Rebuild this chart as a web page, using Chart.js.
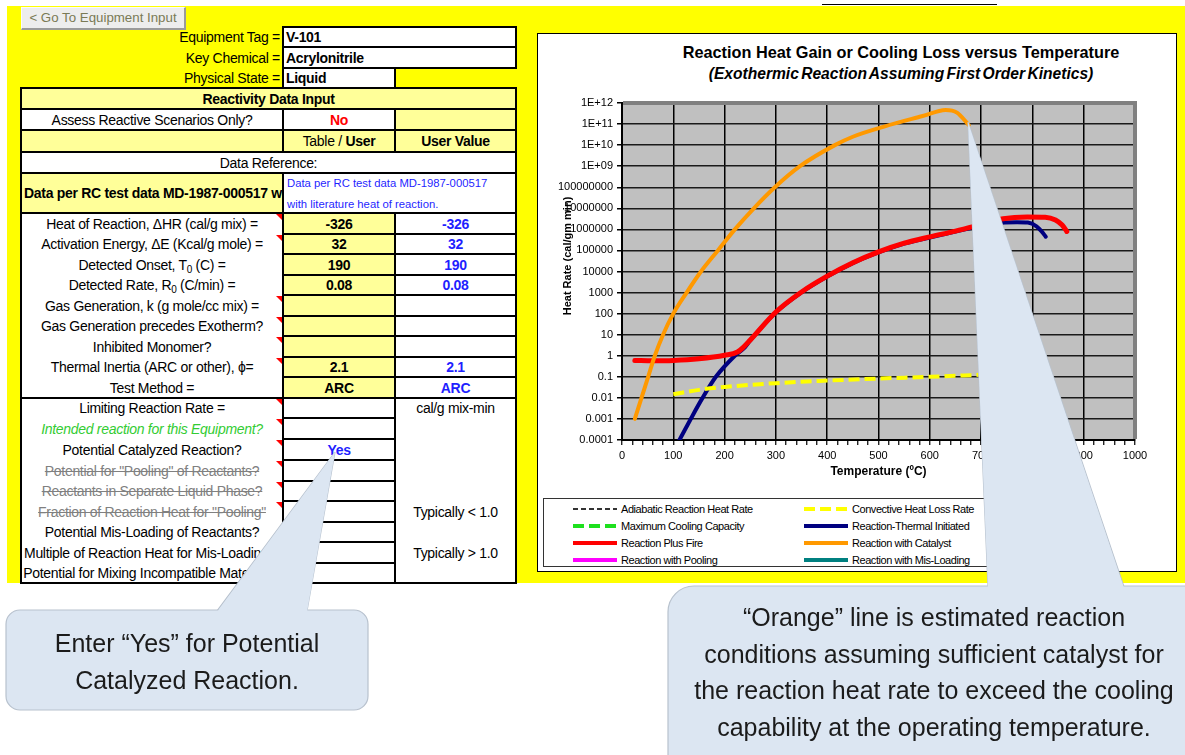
<!DOCTYPE html>
<html>
<head>
<meta charset="utf-8">
<script src="https://cdn.jsdelivr.net/npm/chart.js@4.4.1/dist/chart.umd.min.js"></script>
<style>
  html, body { margin: 0; padding: 0; background: #fff; }
  #page { position: relative; width: 1185px; height: 755px; overflow: hidden;
          font-family: "Liberation Sans", Arial, sans-serif; color: #000; }
  .abs { position: absolute; box-sizing: border-box; }
  .cell { position: absolute; box-sizing: border-box; display: flex; align-items: center;
          justify-content: center; white-space: nowrap; overflow: hidden;
          font-size: 14px; letter-spacing: -0.3px; }
  .bd { outline: 2px solid #000; outline-offset: -1px; }
  .lt { background: #ffff99; }
  .wh { background: #fff; }
  .b { font-weight: bold; }
  .blue { color: #1f1fff; font-weight: bold; }
  .right { justify-content: flex-end; }
  .left { justify-content: flex-start; padding-left: 3px; }
  .strike { color: #808080; text-decoration: line-through; }
  .green { color: #33cc33; font-style: italic; }
  .flag { position: absolute; width: 0; height: 0; border-left: 6px solid transparent;
          border-top: 6px solid #ff0000; }
  sub { font-size: 10px; vertical-align: -3px; line-height: 0; }
  #legend { position: absolute; left: 543px; top: 498px; width: 530px; height: 69px;
            border: 1px solid #333; box-sizing: border-box; background: #fff; }
  .lg-item { position: absolute; display: flex; align-items: center; height: 14px;
             font-size: 11px; letter-spacing: -0.45px; white-space: nowrap; }
  .lg-item svg { margin-right: 3px; }
  .callout { position: absolute; text-align: center; font-size: 25px; color: #1b1b1b;
             z-index: 6; white-space: nowrap; }
</style>
</head>
<body>
<div id="page">
  <div class="abs" style="left:822px; top:4px; width:175px; height:1px; background:#000;"></div>
  <div class="abs" style="left:7px; top:6px; width:1178px; height:577px; background:#ffff00;"></div>

  <div class="abs" style="left:21px; top:7px; width:165px; height:23px; background:#ededed;
       border-right:2px solid #9a9a9a; border-bottom:2px solid #9a9a9a; border-top:1px solid #fafafa;
       border-left:1px solid #fafafa; font-size:13.3px; color:#7a7a55; text-align:center; line-height:20px;">&lt; Go To Equipment Input</div>

  <div class="abs" style="left:537px; top:33px; width:640px; height:539px; background:#fff; border:1px solid #000;"></div>
  <div class="abs" style="left:601px; top:42px; width:600px; text-align:center; font-weight:bold; line-height:21px;">
    <div style="font-size:16.3px;">Reaction Heat Gain or Cooling Loss versus Temperature</div>
    <div style="font-size:15.6px; font-style:italic; word-spacing:-2px;">(Exothermic Reaction Assuming First Order Kinetics)</div>
  </div>
  <canvas id="rateChart" width="638" height="402" class="abs" style="left:538px; top:88px;"></canvas>
  <div id="legend"></div>

  <svg class="abs" width="1185" height="755" style="left:0; top:0; z-index:5;">
    <polygon points="968,122 988,587 1124,587" fill="#dce6f2" stroke="#b8c2ce" stroke-width="1.2"/>
    <rect x="668" y="586" width="560" height="220" rx="26" fill="#dce6f2" stroke="#b8c2ce" stroke-width="1.2"/>
    <polygon points="968,122 988,588 1124,588" fill="#dce6f2"/>
    <polygon points="335,452 217,611 307,611" fill="#dce6f2" stroke="#b8c2ce" stroke-width="1.2"/>
    <rect x="6" y="610" width="362" height="100" rx="14" fill="#dce6f2" stroke="#b8c2ce" stroke-width="1.2"/>
    <polygon points="335,452 217,612 307,612" fill="#dce6f2"/>
  </svg>
  <div class="callout" style="left:6px; top:625px; width:362px; line-height:37px;">Enter “Yes” for Potential<br>Catalyzed Reaction.</div>
  <div class="callout" style="left:634px; top:599px; width:600px; line-height:36.5px;">“Orange” line is estimated reaction<br>conditions assuming sufficient catalyst for<br>the reaction heat rate to exceed the cooling<br>capability at the operating temperature.</div>
</div>

<script>
// chart data (temperature in degC, heat rate in cal/gm min)
const yTickValues = [1e-4, 1e-3, 1e-2, 1e-1, 1, 10, 100, 1e3, 1e4, 1e5, 1e6, 1e7, 1e8, 1e9, 1e10, 1e11, 1e12];
const yTickLabels = ['0.0001', '0.001', '0.01', '0.1', '1', '10', '100', '1000', '10000', '100000',
                     '1000000', '10000000', '100000000', '1E+09', '1E+10', '1E+11', '1E+12'];

const adiabaticT = [];
const adiabaticRate = [];
const convectiveT = [100, 150, 200, 300, 400, 500, 600, 700];
const convectiveRate = [0.015, 0.024, 0.033, 0.05, 0.066, 0.083, 0.1, 0.125];
const coolingT = [];
const coolingRate = [];
const thermalT = [100, 112, 134, 157, 183, 220, 240, 250, 300, 350, 400, 450, 500, 550, 600, 650, 700, 746, 770, 791, 808, 818, 826];
const thermalRate = [3e-5, 1e-4, 1e-3, 1e-2, 0.1, 1, 2.6, 5.3, 115, 1030, 5800, 25000, 80000, 2.1e5, 4.1e5, 7.8e5, 1.45e6, 2.1e6, 2.2e6, 2.1e6, 1.4e6, 8e5, 4.5e5];
const fireT = [25, 60, 100, 150, 200, 225, 237, 250, 300, 350, 400, 450, 500, 550, 600, 650, 700, 743, 790, 825, 845, 858, 867];
const fireRate = [0.6, 0.58, 0.6, 0.72, 1.05, 1.5, 2.6, 5.6, 120, 1070, 6000, 26000, 85000, 2.2e5, 4.4e5, 8.3e5, 1.7e6, 3.2e6, 3.9e6, 3.8e6, 2.8e6, 1.6e6, 8e5];
const catalystT = [25, 38, 51, 64, 80, 100, 126, 154, 187, 220, 257, 298, 347, 415, 450, 511, 586, 631, 653, 676];
const catalystRate = [1e-3, 1e-2, 0.1, 1, 10, 100, 1e3, 1e4, 1e5, 1e6, 1e7, 1e8, 1e9, 1e10, 2.5e10, 7.6e10, 2.4e11, 4.7e11, 3.5e11, 9e10];
const poolingT = [];
const poolingRate = [];
const misLoadT = [];
const misLoadRate = [];

const xy = (ts, vs) => ts.map((t, i) => ({ x: t, y: vs[i] }));

// ---- spreadsheet side (plain html) ----
const page = document.getElementById('page');
function box(x1, y1, x2, y2, html, cls) {
  const d = document.createElement('div');
  d.className = 'cell ' + (cls || '');
  d.style.left = x1 + 'px';
  d.style.top = y1 + 'px';
  d.style.width = (x2 - x1) + 'px';
  d.style.height = (y2 - y1) + 'px';
  d.innerHTML = html ? '<span>' + html + '</span>' : '';
  page.appendChild(d);
  return d;
}
function flag(y) {
  const f = document.createElement('div');
  f.className = 'flag';
  f.style.left = '276px';
  f.style.top = (y + 1) + 'px';
  page.appendChild(f);
}

const X0 = 21, X1 = 283, X2 = 395, X3 = 516;
const Y = [88, 109, 130, 152, 173, 213, 234, 254, 275, 295, 316, 336, 357, 377, 398,
           418, 439, 460, 481, 501, 522, 542, 563, 583];

box(21, 27, 280, 47, 'Equipment Tag =', 'right');
box(21, 47, 280, 68, 'Key Chemical =', 'right');
box(21, 68, 280, 88, 'Physical State =', 'right');
box(X1, 27, X3, 47, 'V-101', 'bd wh b left');
box(X1, 47, X3, 68, 'Acrylonitrile', 'bd wh b left');
box(X1, 68, X2, 88, 'Liquid', 'bd wh b left');

box(X0, Y[0], X3, Y[23], '', 'bd wh');
box(X0, Y[0], X3, Y[1], 'Reactivity Data Input', 'bd lt b');
box(X0, Y[1], X1, Y[2], 'Assess Reactive Scenarios Only?', 'bd wh');
box(X1, Y[1], X2, Y[2], '<span style="color:#ff0000">No</span>', 'bd wh b');
box(X2, Y[1], X3, Y[2], '', 'bd lt');
box(X0, Y[2], X1, Y[3], '', 'bd lt');
box(X1, Y[2], X2, Y[3], 'Table / <b>User</b>', 'bd lt');
box(X2, Y[2], X3, Y[3], 'User Value', 'bd lt b');
box(X0, Y[3], X3, Y[4], 'Data Reference:', 'bd wh');
box(X0, Y[4], X1, Y[5], 'Data per RC test data MD-1987-000517 w', 'bd lt b left');
const ref = box(X1, Y[4], X3, Y[5], 'Data per RC test data MD-1987-000517<br>with literature heat of reaction.', 'bd wh');
ref.style.display = 'block';
ref.style.fontSize = '11.3px';
ref.style.letterSpacing = '0';
ref.style.lineHeight = '21px';
ref.style.color = '#1f1fff';
ref.style.paddingLeft = '4px';

box(X0, Y[5], X1, Y[14], '', 'bd wh');
box(X0, Y[14], X1, Y[23], '', 'bd wh');

const inputRows = [
  ['Heat of Reaction, ΔHR (cal/g mix) =', '-326', true],
  ['Activation Energy, ΔE (Kcal/g mole) =', '32', true],
  ['Detected Onset, T<sub>0</sub> (C) =', '190', false],
  ['Detected Rate, R<sub>0</sub> (C/min) =', '0.08', false],
  ['Gas Generation, k (g mole/cc mix) =', '', true],
  ['Gas Generation precedes Exotherm?', '', true],
  ['Inhibited Monomer?', '', true],
  ['Thermal Inertia (ARC or other), ϕ=', '2.1', true],
  ['Test Method =', 'ARC', false]
];
inputRows.forEach((r, i) => {
  const y1 = Y[5 + i], y2 = Y[6 + i];
  box(X0 + 2, y1, X1 - 2, y2, r[0], '');
  box(X1, y1, X2, y2, r[1], 'bd lt b');
  box(X2, y1, X3, y2, r[1], 'bd wh blue');
  if (r[2]) flag(y1);
});

const scenarioRows = [
  ['Limiting Reaction Rate =', '', '', true],
  ['Intended reaction for this Equipment?', '', 'green', true],
  ['Potential Catalyzed Reaction?', 'Yes', '', true],
  ['Potential for "Pooling" of Reactants?', '', 'strike', true],
  ['Reactants in Separate Liquid Phase?', '', 'strike', true],
  ['Fraction of Reaction Heat for "Pooling"', '', 'strike', true],
  ['Potential Mis-Loading of Reactants?', '', '', false],
  ['Multiple of Reaction Heat for Mis-Loading =', '', '', false],
  ['Potential for Mixing Incompatible Materials?', '', '', false]
];
scenarioRows.forEach((r, i) => {
  const y1 = Y[14 + i], y2 = Y[15 + i];
  box(X0 + 2, y1, X1 - 2, y2, r[0], r[2]);
  box(X1, y1, X2, y2, r[1], 'bd wh blue');
  if (r[3]) flag(y1);
});
box(X2, Y[14], X3, Y[23], '', 'bd wh');
box(X2 + 2, Y[14], X3 - 2, Y[15], 'cal/g mix-min', '');
box(X2 + 2, Y[19], X3 - 2, Y[20], 'Typically &lt; 1.0', '');
box(X2 + 2, Y[21], X3 - 2, Y[22], 'Typically &gt; 1.0', '');

// ---- chart ----
Chart.defaults.font.family = '"Liberation Sans", Arial, sans-serif';
Chart.defaults.color = '#000';

const plotFrame = {
  id: 'plotFrame',
  beforeDraw(chart) {
    const { ctx, chartArea: a } = chart;
    ctx.save();
    ctx.fillStyle = '#c0c0c0';
    ctx.fillRect(a.left, a.top, a.right - a.left, a.bottom - a.top);
    ctx.restore();
  },
  beforeDatasetsDraw(chart) {
    const { ctx, chartArea: a } = chart;
    ctx.save();
    ctx.fillStyle = '#808080';
    ctx.fillRect(a.left + 1, a.top - 2, a.right - a.left + 1, 4);
    ctx.fillRect(a.right - 2, a.top - 2, 4, a.bottom - a.top + 1);
    ctx.restore();
  },
  afterDraw(chart) {
    const ctx = chart.ctx;
    const t = chart.options.scales.y.title;
    ctx.save();
    ctx.translate(30, 168);
    ctx.rotate(-Math.PI / 2);
    ctx.font = 'bold 11px "Liberation Sans", Arial, sans-serif';
    ctx.fillStyle = '#000';
    ctx.textAlign = 'center';
    ctx.textBaseline = 'middle';
    ctx.fillText(t.text, 0, 0);
    ctx.restore();
  }
};

const lineStyle = { pointRadius: 0, borderCapStyle: 'round', borderJoinStyle: 'round',
                    cubicInterpolationMode: 'monotone', fill: false };

const chart = new Chart(document.getElementById('rateChart'), {
  type: 'line',
  data: {
    datasets: [
      { ...lineStyle, label: 'Adiabatic Reaction Heat Rate', data: xy(adiabaticT, adiabaticRate),
        borderColor: '#333333', borderWidth: 2, borderDash: [5, 3], borderCapStyle: 'butt', order: 8 },
      { ...lineStyle, label: 'Convective Heat Loss Rate', data: xy(convectiveT, convectiveRate),
        borderColor: '#ffff00', borderWidth: 4, borderDash: [11, 5], borderCapStyle: 'butt', order: 3 },
      { ...lineStyle, label: 'Maximum Cooling Capacity', data: xy(coolingT, coolingRate),
        borderColor: '#1ee01e', borderWidth: 4, borderDash: [11, 5], borderCapStyle: 'butt', order: 7 },
      { ...lineStyle, label: 'Reaction-Thermal Initiated', data: xy(thermalT, thermalRate),
        borderColor: '#000080', borderWidth: 4, order: 4 },
      { ...lineStyle, label: 'Reaction Plus Fire', data: xy(fireT, fireRate),
        borderColor: '#ff0000', borderWidth: 5, order: 2 },
      { ...lineStyle, label: 'Reaction with Catalyst', data: xy(catalystT, catalystRate),
        borderColor: '#ff9900', borderWidth: 4, order: 1 },
      { ...lineStyle, label: 'Reaction with Pooling', data: xy(poolingT, poolingRate),
        borderColor: '#ff00ff', borderWidth: 4, order: 6 },
      { ...lineStyle, label: 'Reaction with Mis-Loading', data: xy(misLoadT, misLoadRate),
        borderColor: '#008080', borderWidth: 4, order: 5 }
    ]
  },
  options: {
    responsive: false,
    animation: false,
    devicePixelRatio: 1,
    layout: { padding: { left: 0, right: 41, top: 15, bottom: 0 } },
    plugins: { legend: { display: false }, tooltip: { enabled: false } },
    scales: {
      x: {
        type: 'linear',
        min: 0,
        max: 1000,
        afterFit: (s) => { s.height = 50; },
        border: { color: '#000', width: 2 },
        grid: {
          color: (c) => (c.tick && Math.round(c.tick.value) % 100 === 0 ? '#000' : 'rgba(0,0,0,0)'),
          lineWidth: 1.5,
          tickColor: '#000',
          tickLength: 5,
          tickWidth: 1.2
        },
        ticks: {
          stepSize: 20,
          maxTicksLimit: 60,
          autoSkip: false,
          maxRotation: 0,
          padding: 4,
          font: { size: 11 },
          callback: (v) => (Math.round(v) % 100 === 0 ? String(Math.round(v)) : '')
        },
        title: { display: true, text: 'Temperature (ºC)', font: { size: 12, weight: 'bold' },
                 padding: { top: 0, bottom: 11 } }
      },
      y: {
        type: 'logarithmic',
        min: 1e-4,
        max: 1e12,
        afterFit: (s) => { s.width = 84; },
        afterBuildTicks: (s) => { s.ticks = yTickValues.map((v) => ({ value: v })); },
        border: { color: '#000', width: 2 },
        grid: { color: '#1a1a1a', lineWidth: 1.5, tickColor: '#000', tickLength: 5 },
        ticks: {
          autoSkip: false,
          padding: 4,
          font: { size: 11 },
          callback: (v) => yTickLabels[yTickValues.indexOf(v)]
        },
        title: { display: false, text: 'Heat Rate (cal/gm min)' }
      }
    }
  },
  plugins: [plotFrame]
});

// html legend built from the chart's datasets, two per row
const legend = document.getElementById('legend');
chart.data.datasets.forEach((ds, i) => {
  const row = Math.floor(i / 2), col = i % 2;
  const item = document.createElement('div');
  item.className = 'lg-item';
  item.style.left = (col ? 259 : 28) + 'px';
  item.style.top = (3 + row * 17) + 'px';
  const dash = (ds.borderDash || []).join(' ');
  const w = Math.min(ds.borderWidth, 4);
  item.innerHTML = '<svg width="46" height="8"><line x1="1" y1="4" x2="45" y2="4" stroke="' + ds.borderColor +
    '" stroke-width="' + w + '" stroke-dasharray="' + dash + '"/></svg><span>' + ds.label + '</span>';
  legend.appendChild(item);
});
</script>
</body>
</html>
